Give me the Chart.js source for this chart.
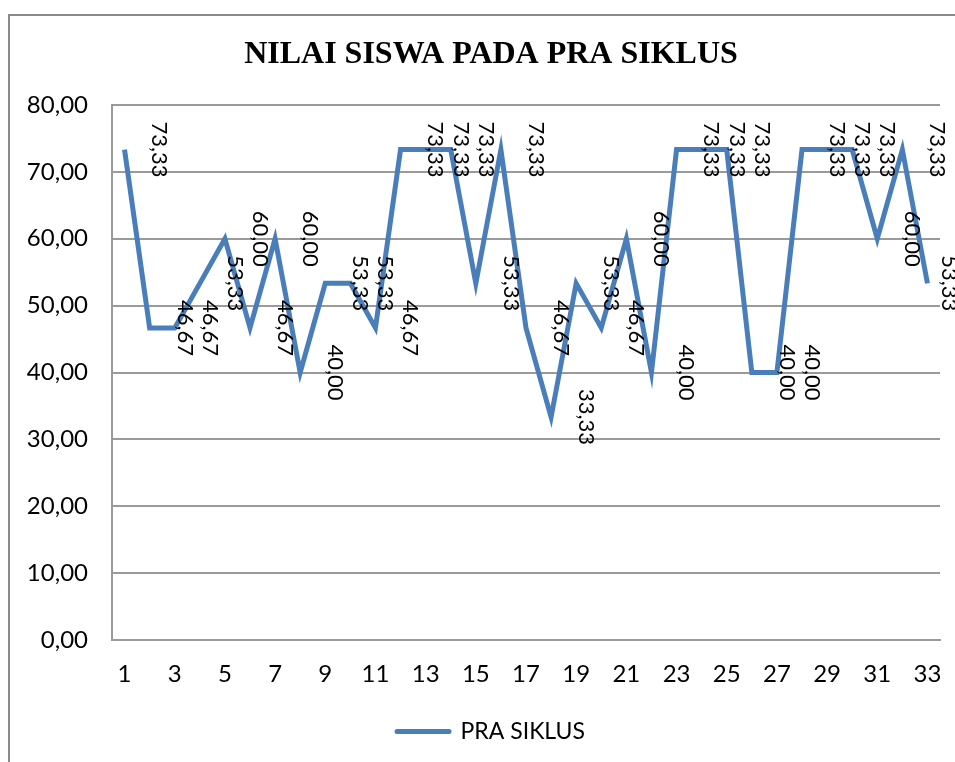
<!DOCTYPE html>
<html>
<head>
<meta charset="utf-8">
<script src="https://cdn.jsdelivr.net/npm/chart.js@4/dist/chart.umd.min.js"></script>
<style>
  html, body { margin: 0; padding: 0; background: #ffffff; overflow: hidden; }
  canvas { display: block; }
</style>
</head>
<body>
<canvas id="c" width="955" height="762"></canvas>
<script>
// ---- data ----
const categories = [1, 2, 3, 4, 5, 6, 7, 8, 9, 10, 11, 12, 13, 14, 15, 16, 17, 18, 19, 20, 21, 22, 23, 24, 25, 26, 27, 28, 29, 30, 31, 32, 33];
const praSiklus = [73.33, 46.67, 46.67, 53.33, 60.00, 46.67, 60.00, 40.00, 53.33, 53.33, 46.67, 73.33, 73.33, 73.33, 53.33, 73.33, 46.67, 33.33, 53.33, 46.67, 60.00, 40.00, 73.33, 73.33, 73.33, 40.00, 40.00, 73.33, 73.33, 73.33, 60.00, 73.33, 53.33];
const seriesName = 'PRA SIKLUS';
const chartTitle = 'NILAI SISWA PADA PRA SIKLUS';
const yTicks = [0, 10, 20, 30, 40, 50, 60, 70, 80];

const fmt = v => Number(v).toFixed(2).replace('.', ',');

const LINE = '#4a7ebb';
const GRID = '#9a9a9a';
const LABEL_FONT = 'Lato';

const frame = {
  id: 'frame',
  beforeDraw(chart) {
    const ctx = chart.ctx;
    ctx.save();
    ctx.strokeStyle = '#8a8a8a';
    ctx.lineWidth = 2;
    ctx.beginPath();
    ctx.moveTo(9, 800);
    ctx.lineTo(9, 15);
    ctx.lineTo(1000, 15);
    ctx.stroke();
    ctx.restore();
  }
};

const valueLabels = {
  id: 'valueLabels',
  afterDatasetsDraw(chart) {
    const ctx = chart.ctx;
    const meta = chart.getDatasetMeta(0);
    const data = chart.data.datasets[0].data;
    ctx.save();
    ctx.font = '22px ' + LABEL_FONT;
    ctx.fillStyle = '#000000';
    ctx.textAlign = 'center';
    ctx.textBaseline = 'middle';
    meta.data.forEach((pt, i) => {
      ctx.save();
      ctx.translate(Math.min(pt.x + 35, 949), pt.y);
      ctx.rotate(Math.PI / 2);
      ctx.fillText(fmt(data[i]), 0, 0);
      ctx.restore();
    });
    ctx.restore();
  }
};

new Chart(document.getElementById('c'), {
  type: 'line',
  data: {
    labels: categories,
    datasets: [{
      label: seriesName,
      data: praSiklus,
      borderColor: LINE,
      backgroundColor: LINE,
      borderWidth: 5,
      pointRadius: 0,
      pointHoverRadius: 0,
      tension: 0,
      fill: false,
      borderJoinStyle: 'miter'
    }]
  },
  options: {
    responsive: false,
    animation: false,
    events: [],
    layout: { padding: { left: 25, right: -2, top: 0, bottom: 9 } },
    plugins: {
      title: {
        display: true,
        text: chartTitle,
        color: '#000000',
        font: { family: 'Liberation Serif', size: 32, weight: 'bold', lineHeight: 1.2 },
        padding: { top: 36, bottom: 30.6 }
      },
      legend: {
        display: true,
        position: 'bottom',
        labels: {
          color: '#000000',
          font: { family: LABEL_FONT, size: 23 },
          usePointStyle: true,
          pointStyleWidth: 52,
          padding: 10,
          generateLabels(chart) {
            const items = Chart.defaults.plugins.legend.labels.generateLabels(chart);
            items.forEach(it => {
              it.pointStyle = 'line';
              it.lineCap = 'round';
              it.lineWidth = 5;
              it.strokeStyle = LINE;
            });
            return items;
          }
        }
      },
      tooltip: { enabled: false }
    },
    scales: {
      x: {
        type: 'category',
        offset: true,
        grid: { display: false, drawTicks: false },
        border: { display: true, color: GRID, width: 2 },
        ticks: {
          autoSkip: false,
          maxRotation: 0,
          minRotation: 0,
          padding: 20,
          color: '#000000',
          font: { family: LABEL_FONT, size: 24 },
          callback: (v, i) => (i % 2 === 0 ? String(categories[i]) : '')
        },
        afterFit(scale) {
          scale.height = 70;
          scale.paddingLeft = 0;
          scale.paddingRight = 0;
        }
      },
      y: {
        min: 0,
        max: 80,
        afterBuildTicks(scale) { scale.ticks = yTicks.map(v => ({ value: v })); },
        grid: { color: GRID, lineWidth: 2, drawTicks: false },
        border: { display: true, color: GRID, width: 2 },
        ticks: {
          padding: 24,
          color: '#000000',
          font: { family: LABEL_FONT, size: 24 },
          callback: v => fmt(v)
        },
        afterFit(scale) { scale.width = 87; }
      },
      yRight: {
        position: 'right',
        display: true,
        grid: { display: false, drawTicks: false },
        border: { display: false },
        ticks: { display: false },
        afterFit(scale) { scale.width = 17; }
      }
    }
  },
  plugins: [frame, valueLabels]
});
</script>
</body>
</html>
